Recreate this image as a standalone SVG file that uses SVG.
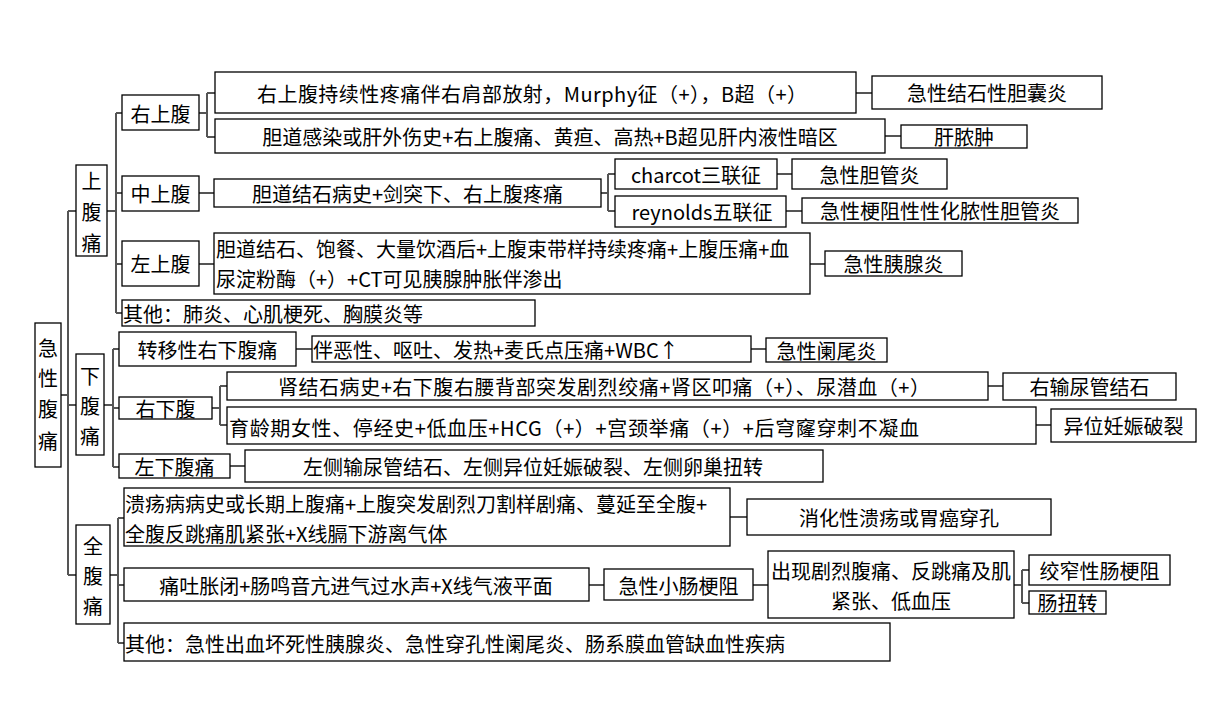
<svg xmlns="http://www.w3.org/2000/svg" width="1210" height="718" viewBox="0 0 1210 718">
<style>
rect{fill:#fff;stroke:#000;stroke-width:1.3}
text{font-family:"Microsoft YaHei","Noto Sans CJK SC","Noto Sans",sans-serif;font-size:20px;fill:#000;dominant-baseline:central}
.c{text-anchor:middle}
#connectors path{fill:none;stroke:#555;stroke-width:2}
</style>
<rect x="0" y="0" width="1210" height="718" style="fill:#fff;stroke:none"/>
<g id="connectors">
<path d="M61 395H68M68 211V575M68 211H76M68 405H76M68 575H76"/>
<path d="M107 211H116M116 113V313M116 113H122M116 193H122M116 264H122M116 313H122"/>
<path d="M199 113H207M207 93V137M207 93H215M207 137H215"/>
<path d="M856 93H872M885 136H901"/>
<path d="M199 193H214M601 193H608M608 174V211M608 174H615M608 211H615M777 174H792M786 211H802"/>
<path d="M199 264H214M810 264H825"/>
<path d="M104 405H113M113 349V467M113 349H119M113 408H119M113 467H119"/>
<path d="M296 349H312M751 349H766"/>
<path d="M212 408H220M220 386V425M220 386H227M220 425H227M988 386H1003M1036 425H1051"/>
<path d="M230 466H245"/>
<path d="M110 575H118M118 518V643M118 518H124M118 585H124M118 643H124"/>
<path d="M730 517H747M589 585H604M753 585H768M1014 585H1022M1022 570V603M1022 570H1029M1022 603H1029"/>
</g>
<g id="n-root"><rect x="35" y="323" width="26" height="144"/><text class="c" x="48" y="347">急</text><text class="c" x="48" y="377">性</text><text class="c" x="48" y="408">腹</text><text class="c" x="48" y="440">痛</text></g>
<g id="n-upper"><rect x="76" y="165" width="31" height="91"/><text class="c" x="91.5" y="180">上</text><text class="c" x="91.5" y="211">腹</text><text class="c" x="91.5" y="242">痛</text></g>
<g id="n-lower"><rect x="76" y="354" width="28" height="101"/><text class="c" x="90" y="375">下</text><text class="c" x="90" y="405">腹</text><text class="c" x="90" y="435">痛</text></g>
<g id="n-whole"><rect x="76" y="525" width="34" height="99"/><text class="c" x="93" y="545">全</text><text class="c" x="93" y="575">腹</text><text class="c" x="93" y="605">痛</text></g>
<g id="n-ru"><rect x="122" y="95" width="77" height="35"/><text class="c" x="160.5" y="113">右上腹</text></g>
<g id="n-ru1"><rect x="215" y="72" width="641" height="41"/><text class="c" x="532" y="93" textLength="550" lengthAdjust="spacing">右上腹持续性疼痛伴右肩部放射，Murphy征（+），B超（+）</text></g>
<g id="n-ru1r"><rect x="872" y="76" width="230" height="33"/><text class="c" x="987" y="92.5">急性结石性胆囊炎</text></g>
<g id="n-ru2"><rect x="215" y="119" width="670" height="34"/><text class="c" x="550" y="136">胆道感染或肝外伤史+右上腹痛、黄疸、高热+B超见肝内液性暗区</text></g>
<g id="n-ru2r"><rect x="901" y="125" width="126" height="23"/><text class="c" x="964" y="136.5">肝脓肿</text></g>
<g id="n-mu"><rect x="122" y="176" width="77" height="35"/><text class="c" x="160.5" y="193.5">中上腹</text></g>
<g id="n-mu1"><rect x="214" y="179" width="387" height="28"/><text class="c" x="407.5" y="193">胆道结石病史+剑突下、右上腹疼痛</text></g>
<g id="n-charcot"><rect x="615" y="159" width="162" height="30"/><text class="c" x="696" y="174">charcot三联征</text></g>
<g id="n-charcotr"><rect x="792" y="159" width="155" height="30"/><text class="c" x="869.5" y="174">急性胆管炎</text></g>
<g id="n-reynolds"><rect x="615" y="196" width="171" height="31"/><text class="c" x="702" y="211">reynolds五联征</text></g>
<g id="n-reynoldsr"><rect x="802" y="198" width="276" height="25"/><text class="c" x="940" y="210.5">急性梗阻性性化脓性胆管炎</text></g>
<g id="n-lu"><rect x="122" y="241" width="77" height="45"/><text class="c" x="160.5" y="263.5">左上腹</text></g>
<g id="n-lu1"><rect x="214" y="233" width="596" height="61"/><text x="216" y="248">胆道结石、饱餐、大量饮酒后+上腹束带样持续疼痛+上腹压痛+血</text><text x="216" y="278">尿淀粉酶（+）+CT可见胰腺肿胀伴渗出</text></g>
<g id="n-lu1r"><rect x="825" y="251" width="137" height="25"/><text class="c" x="893.5" y="263.5">急性胰腺炎</text></g>
<g id="n-uo"><rect x="122" y="300" width="413" height="26"/><text x="123" y="313">其他：肺炎、心肌梗死、胸膜炎等</text></g>
<g id="n-trl"><rect x="119" y="332" width="177" height="34"/><text class="c" x="207.5" y="349">转移性右下腹痛</text></g>
<g id="n-trl1"><rect x="312" y="336" width="439" height="26"/><text x="313" y="349">伴恶性、呕吐、发热+麦氏点压痛+WBC↑</text></g>
<g id="n-trl1r"><rect x="766" y="338" width="121" height="24"/><text class="c" x="826.5" y="350">急性阑尾炎</text></g>
<g id="n-rl"><rect x="119" y="397" width="93" height="22"/><text class="c" x="165.5" y="408">右下腹</text></g>
<g id="n-rl1"><rect x="227" y="372" width="761" height="28"/><text class="c" x="604" y="386" textLength="652" lengthAdjust="spacing">肾结石病史+右下腹右腰背部突发剧烈绞痛+肾区叩痛（+）、尿潜血（+）</text></g>
<g id="n-rl1r"><rect x="1003" y="373" width="173" height="27"/><text class="c" x="1089.5" y="386.5">右输尿管结石</text></g>
<g id="n-rl2"><rect x="227" y="407" width="809" height="37"/><text x="229" y="427" textLength="690" lengthAdjust="spacing">育龄期女性、停经史+低血压+HCG（+）+宫颈举痛（+）+后穹窿穿刺不凝血</text></g>
<g id="n-rl2r"><rect x="1051" y="409" width="145" height="33"/><text class="c" x="1123.5" y="425.5">异位妊娠破裂</text></g>
<g id="n-ll"><rect x="119" y="454" width="111" height="24"/><text class="c" x="174.5" y="466">左下腹痛</text></g>
<g id="n-ll1"><rect x="245" y="450" width="578" height="32"/><text class="c" x="533" y="466">左侧输尿管结石、左侧异位妊娠破裂、左侧卵巢扭转</text></g>
<g id="n-w1"><rect x="124" y="488" width="606" height="58"/><text x="125" y="503">溃疡病病史或长期上腹痛+上腹突发剧烈刀割样剧痛、蔓延至全腹+</text><text x="125" y="533">全腹反跳痛肌紧张+X线膈下游离气体</text></g>
<g id="n-w1r"><rect x="747" y="499" width="304" height="36"/><text class="c" x="899" y="517">消化性溃疡或胃癌穿孔</text></g>
<g id="n-w2"><rect x="124" y="568" width="465" height="33"/><text class="c" x="356" y="585">痛吐胀闭+肠鸣音亢进气过水声+X线气液平面</text></g>
<g id="n-w2a"><rect x="604" y="569" width="149" height="31"/><text class="c" x="678.5" y="585">急性小肠梗阻</text></g>
<g id="n-w2b"><rect x="768" y="551" width="246" height="67"/><text class="c" x="891" y="570">出现剧烈腹痛、反跳痛及肌</text><text class="c" x="891" y="600">紧张、低血压</text></g>
<g id="n-w2c"><rect x="1029" y="555" width="141" height="30"/><text class="c" x="1099.5" y="570">绞窄性肠梗阻</text></g>
<g id="n-w2d"><rect x="1029" y="591" width="77" height="23"/><text class="c" x="1067.5" y="602.5">肠扭转</text></g>
<g id="n-w3"><rect x="124" y="623" width="766" height="38"/><text x="125" y="643">其他：急性出血坏死性胰腺炎、急性穿孔性阑尾炎、肠系膜血管缺血性疾病</text></g>
</svg>
